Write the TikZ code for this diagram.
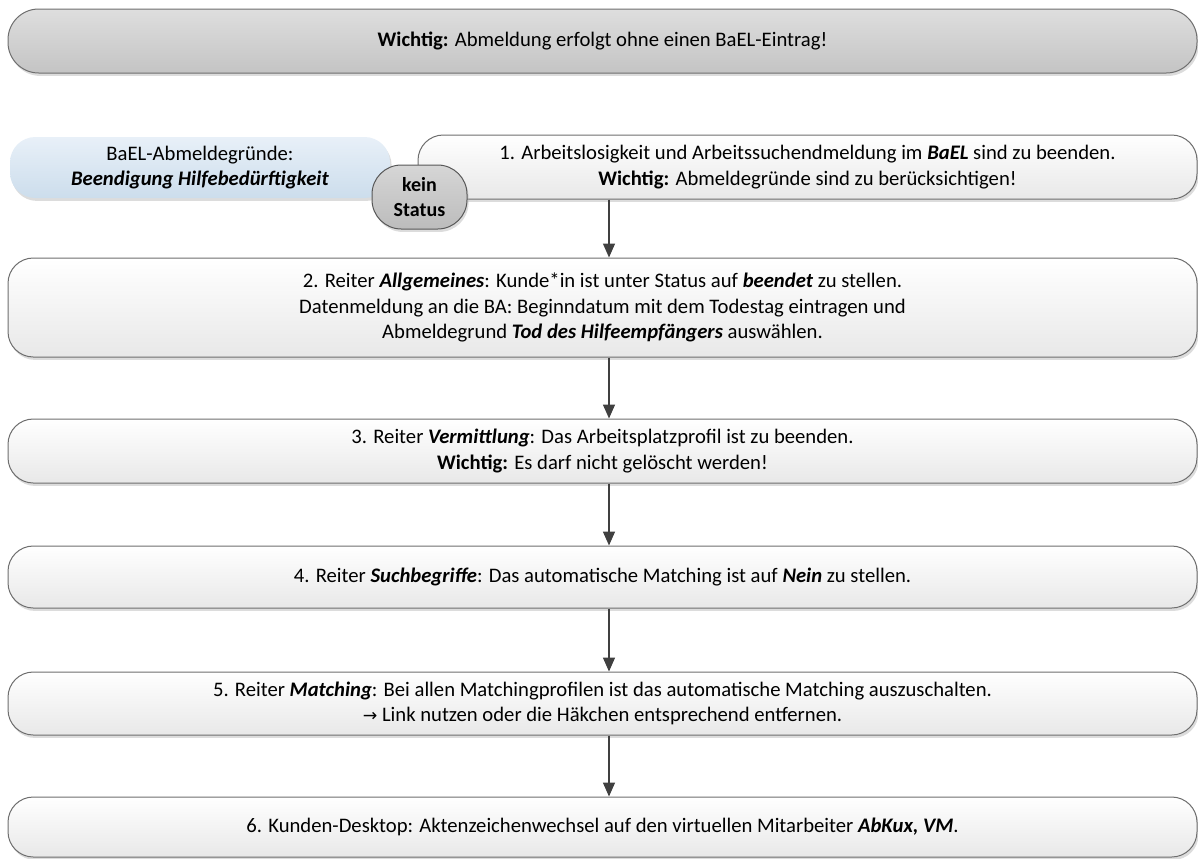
\documentclass[tikz,border=0pt]{standalone}
\usepackage{fontspec}
\setmainfont{Carlito}
\newfontfamily\dejavu{DejaVu Sans}
\usetikzlibrary{arrows.meta,shadows}
\definecolor{boxline}{RGB}{110,110,110}
\definecolor{boxbot}{RGB}{232,232,232}
\definecolor{bantop}{RGB}{222,222,222}
\definecolor{banbot}{RGB}{196,196,196}
\definecolor{bluetop}{RGB}{232,240,248}
\definecolor{bluebot}{RGB}{204,221,236}
\definecolor{arrowc}{RGB}{64,64,64}
\definecolor{circtop}{RGB}{214,214,214}
\definecolor{circbot}{RGB}{188,188,188}
\tikzset{
  txt/.style={font=\fontsize{15.5}{19.2}\selectfont, align=center, inner sep=0pt},
  shad/.style={drop shadow={shadow xshift=1.2pt, shadow yshift=-2.2pt, fill=black!30, opacity=0.45}},
  stepbox/.style={txt, shad, draw=boxline, line width=0.75pt, rounded corners=19pt,
    top color=white, bottom color=boxbot, minimum width=891.75pt},
  banner/.style={txt, shad, draw=boxline, line width=0.75pt, rounded corners=23pt,
    top color=bantop, bottom color=banbot, minimum width=891.75pt, minimum height=48pt},
  reasonbox/.style={txt, shad, rounded corners=19pt, top color=bluetop, bottom color=bluebot,
    minimum width=285pt, minimum height=45.75pt},
  statusbox/.style={txt, font=\bfseries\fontsize{15}{19.2}\selectfont, shad, draw=boxline!80!black, line width=0.75pt,
    rounded corners=22pt, top color=circtop, bottom color=circbot, minimum width=71.25pt, minimum height=48pt},
  arr/.style={draw=arrowc, line width=1.1pt, -{Triangle[length=10.5pt, width=9pt]}},
}
\newcommand{\bi}[1]{\textbf{\textit{#1}}}
\begin{document}
\begin{tikzpicture}[x=0.75pt, y=-0.75pt]
\useasboundingbox (0,0) rectangle (1198,858);
\node[banner] (ban) at (602.5,41) {\textbf{Wichtig:} Abmeldung erfolgt ohne einen BaEL-Eintrag!};
\node[reasonbox] (reasons) at (200,167.5) {BaEL-Abmeldegründe:\\ \bi{Beendigung Hilfebedürftigkeit}};
\node[stepbox, minimum width=584.25pt, minimum height=48pt] (s1) at (807.5,167)
  {1. Arbeitslosigkeit und Arbeitssuchendmeldung im \bi{BaEL} sind zu beenden.\\ \textbf{Wichtig:} Abmeldegründe sind zu berücksichtigen!};
\node[statusbox] (status) at (419.5,197) {kein\\Status};
\node[stepbox, minimum height=74.25pt] (s2) at (602.5,307.5)
  {2. Reiter \bi{Allgemeines}: Kunde*in ist unter Status auf \bi{beendet} zu stellen.\\
   Datenmeldung an die BA: Beginndatum mit dem Todestag eintragen und\\
   Abmeldegrund \bi{Tod des Hilfeempfängers} auswählen.};
\node[stepbox, minimum height=48pt] (s3) at (602.5,451)
  {3. Reiter \bi{Vermittlung}: Das Arbeitsplatzprofil ist zu beenden.\\ \textbf{Wichtig:} Es darf nicht gelöscht werden!};
\node[stepbox, minimum height=46.5pt] (s4) at (602.5,577)
  {4. Reiter \bi{Suchbegriffe}: Das automatische Matching ist auf \bi{Nein} zu stellen.};
\node[stepbox, minimum height=47.25pt] (s5) at (602.5,703.5)
  {5. Reiter \bi{Matching}: Bei allen Matchingprofilen ist das automatische Matching auszuschalten.\\
   {\dejavu\fontsize{13}{15}\selectfont →} Link nutzen oder die Häkchen entsprechend entfernen.};
\node[stepbox, minimum height=45pt] (s6) at (602.5,827)
  {6. Kunden-Desktop: Aktenzeichenwechsel auf den virtuellen Mitarbeiter \bi{AbKux, VM}.};
\coordinate (ax) at (609,0);
\draw[arr] (s1.south -| ax) -- (s2.north -| ax);
\draw[arr] (s2.south -| ax) -- (s3.north -| ax);
\draw[arr] (s3.south -| ax) -- (s4.north -| ax);
\draw[arr] (s4.south -| ax) -- (s5.north -| ax);
\draw[arr] (s5.south -| ax) -- (s6.north -| ax);
\end{tikzpicture}
\end{document}
